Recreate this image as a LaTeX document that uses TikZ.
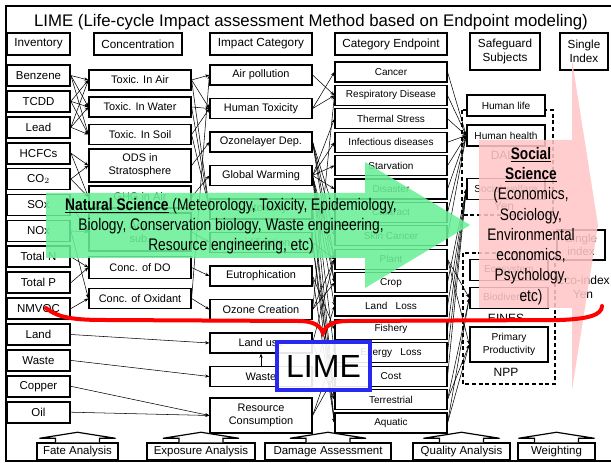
\documentclass[tikz,border=0pt]{standalone}
\usepackage{fontspec}
\setmainfont{Liberation Sans}
\newfontfamily\narrowfont[FakeStretch=0.82]{Liberation Sans}
\usetikzlibrary{arrows.meta,calc}

\definecolor{natgreen}{RGB}{105,240,150}
\definecolor{socpink}{RGB}{255,198,198}
\definecolor{limeblue}{RGB}{40,40,240}
\definecolor{bracered}{RGB}{255,0,0}

\begin{document}
\begin{tikzpicture}[x=0.75pt, y=-0.75pt,
    box/.style={draw, fill=white, line width=0.9pt, inner sep=0pt, align=center},
    hdrbox/.style={box, line width=1.3pt, font=\fontsize{8.8}{10.4}\selectfont},
    invbox/.style={box, line width=1.3pt, minimum width=47.25pt, minimum height=15.75pt, font=\fontsize{8.6}{10}\selectfont},
    concbox/.style={box, minimum width=76.5pt, minimum height=15pt, font=\fontsize{8.2}{9.8}\selectfont},
    endbox/.style={box, line width=0.8pt, minimum width=84pt, minimum height=15pt, font=\fontsize{7.5}{9}\selectfont},
    safebox/.style={box, line width=1.1pt, minimum width=58.5pt, minimum height=15.75pt, font=\fontsize{7.6}{9.4}\selectfont},
    stepbox/.style={box, line width=1.1pt, minimum height=12.75pt, font=\fontsize{8.6}{10}\selectfont},
    unit/.style={font=\fontsize{9}{10.5}\selectfont, align=center},
    conn/.style={-{Stealth[length=3.2pt,width=2.4pt]}, line width=0.4pt}]

  \useasboundingbox (0,0) rectangle (611,463);
  \draw[line width=1.5pt] (611,6) -- (6,6) -- (6,461) -- (611,461);

  \node (title) at (311,22) {\fontsize{12.6}{14}\selectfont LIME (Life-cycle Impact assessment Method based on Endpoint modeling)};

  % column heads
  \node[hdrbox, minimum width=47.25pt, minimum height=16.5pt] (hinv) at (38.5,44) {Inventory};
  \node[hdrbox, minimum width=66pt, minimum height=16.5pt] (hconc) at (138,44) {Concentration};
  \node[hdrbox, minimum width=76.5pt, minimum height=16.5pt] (himp) at (261,44) {Impact Category};
  \node[hdrbox, minimum width=84pt, minimum height=16.5pt] (hend) at (391,44) {Category Endpoint};
  \node[hdrbox, minimum width=52.5pt, minimum height=27.75pt] (hsafe) at (505,51.5) {Safeguard\\Subjects};
  \node[hdrbox, minimum width=36pt, minimum height=27.75pt] (hsingle) at (584,51.5) {Single\\Index};

  % dashed groups of safeguard subjects
  \draw[dash pattern=on 3pt off 2pt, line width=0.9pt] (462,110) rectangle (553,215);
  \draw[dash pattern=on 3pt off 2pt, line width=0.9pt] (463,253) rectangle (555,384);

  % inventory
  \foreach \nm/\txt [count=\i from 0] in {benzene/Benzene, tcdd/TCDD, lead/Lead, hcfc/HCFCs, co2/CO$_2$, sox/SOx, nox/NOx, totn/Total N, totp/Total P, nmvoc/NMVOC, land/Land, waste/Waste, copper/Copper, oil/Oil}
    \node[invbox] (\nm) at (38.5,75.5+25.9*\i) {\txt};

  % concentration
  \node[concbox] (tair) at (140,80) {Toxic. In Air};
  \node[concbox] (twater) at (140,107) {Toxic. In Water};
  \node[concbox] (tsoil) at (140,134.5) {Toxic. In Soil};
  \node[concbox, minimum height=24.75pt] (ods) at (140,165.5) {ODS in\\Stratosphere};
  \node[concbox, minimum height=16.5pt] (ghg) at (140,197) {GHG in Air};
  \node[concbox, minimum height=28.5pt] (acid) at (140,232) {Acid\\sub.};
  \node[concbox, minimum height=17pt] (dox) at (140,267.5) {Conc. of DO};
  \node[concbox] (oxid) at (140,298.5) {Conc. of Oxidant};

  % impact category
  \foreach \nm/\txt [count=\i from 0] in {air/Air pollution, htox/Human Toxicity, ozl/Ozonelayer Dep., gw/Global Warming, ecotox/Ecotoxicity, acidif/Acidification, eutro/Eutrophication, ozc/Ozone Creation, landuse/Land use, wastei/Waste}
    \node[concbox] (\nm) at (261,75+33.5*\i) {\txt};
  \node[concbox, minimum height=26.25pt] (resource) at (261,415.5) {Resource\\Consumption};

  % category endpoint
  \foreach \nm/\txt [count=\i from 0] in {cancer/Cancer, resp/Respiratory Disease, thermal/Thermal Stress, infect/Infectious diseases, starv/Starvation, disaster/Disaster, cataract/Cataract, skin/Skin Cancer, plant/Plant, crop/Crop, landloss/Land~~~Loss, fishery/Fishery, energy/Energy~~~Loss, cost/Cost, terr/Terrestrial, aquatic/Aquatic}
    \node[endbox] (\nm) at (391,72+23.4*\i) {\txt};

  % safeguard subjects
  \node[safebox] (hlife) at (506,105.5) {Human life};
  \node[safebox] (hhealth) at (506,135.5) {Human health};
  \node[unit] (daly) at (506,155) {DALY};
  \node[safebox] (swelfare) at (506,189) {Social welfare};
  \node[unit] (yen) at (504,206) {Yen};
  \node[safebox] (ecosys) at (509,270) {Ecosystem};
  \node[safebox] (biodiv) at (509,298) {Biodiversity};
  \node[unit] (eines) at (506,318) {EINES};
  \node[safebox, minimum height=26.25pt] (primary) at (509,344.5) {Primary\\Productivity};
  \node[unit] (npp) at (506,372) {NPP};

  % single index
  \node[box, line width=1.1pt, minimum width=36pt, minimum height=22.5pt, font=\fontsize{8.6}{10}\selectfont] (sindex) at (581,245) {Single\\index};
  \node[unit] (ecoidx) at (583,287) {Eco-index\\Yen};

  % steps
  \node[stepbox, minimum width=60.75pt] (fate) at (77.5,451.5) {Fate Analysis};
  \node[stepbox, minimum width=81pt] (expo) at (201,451.5) {Exposure Analysis};
  \node[stepbox, minimum width=94.5pt] (dmg) at (328,451.5) {Damage Assessment};
  \node[stepbox, minimum width=72.75pt] (qual) at (461.5,451.5) {Quality Analysis};
  \node[stepbox, minimum width=57.75pt] (wgt) at (556.5,451.5) {Weighting};
  \foreach \b in {fate,expo,dmg,qual,wgt}
    \draw[line width=0.9pt, fill=white] ($(\b.north)+(-22,0)$) -- ++(0,-4) -- ++(-16,0)
      -- ($(\b.north)+(0,-10)$) -- ($(\b.north)+(38,-4)$) -- ++(-16,0) -- ++(0,4);

  % connectors
  \foreach \a/\b in {benzene/tair, benzene/twater, benzene/tsoil, tcdd/tair, tcdd/twater, tcdd/tsoil,
      lead/tair, lead/twater, lead/tsoil, hcfc/ods, hcfc/ghg, co2/ghg, co2/ods, sox/acid, nox/acid,
      nox/oxid, totn/dox, totp/dox, nmvoc/oxid,
      tair/air, tair/htox, twater/htox, tsoil/htox, tair/ecotox, twater/ecotox, tsoil/ecotox,
      ods/ozl, ghg/gw, acid/acidif, dox/eutro, oxid/ozc, oxid/air,
      land/landuse, waste/wastei, copper/resource, oil/resource,
      air/resp, htox/cancer, htox/resp, ozl/skin, ozl/cataract, ozl/crop, ozl/plant,
      gw/thermal, gw/infect, gw/starv, gw/disaster, gw/crop, gw/landloss, gw/energy, gw/terr, gw/plant,
      ecotox/terr, ecotox/aquatic, acidif/plant, acidif/aquatic, acidif/terr, eutro/aquatic, eutro/fishery,
      ozc/resp, ozc/crop, ozc/plant, landuse/terr, landuse/plant, wastei/landloss, resource/energy, resource/cost,
      cancer/hhealth, resp/hhealth, thermal/hhealth, infect/hhealth, starv/hhealth, disaster/hhealth,
      cataract/hhealth, skin/hhealth, crop/swelfare, landloss/swelfare, fishery/swelfare, energy/swelfare,
      cost/swelfare, plant/biodiv, terr/biodiv, aquatic/biodiv, plant/primary, terr/primary, aquatic/primary}
    \draw[conn] (\a.east) -- (\b.west);
  \draw[conn] (wastei.north) -- (landuse.south);

  % natural science arrow
  \fill[natgreen, opacity=0.87] (46,193) -- (365,193) -- (365,162) -- (470,225) -- (365,288) -- (365,258) -- (46,258) -- cycle;
  \node[font=\narrowfont\fontsize{12.6}{15}\selectfont, align=center] (natsci) at (231,226)
    {\underline{\textbf{Natural Science}} (Meteorology, Toxicity, Epidemiology,\\Biology, Conservation biology, Waste engineering,\\Resource engineering, etc)};

  % social science arrow
  \fill[socpink, opacity=0.87] (479,140) -- (572,140) -- (572,60) -- (598,225) -- (572,390) -- (572,308) -- (479,308) -- cycle;
  \node[font=\narrowfont\fontsize{12.5}{15.2}\selectfont, align=center] (socsci) at (531,226)
    {\underline{\textbf{Social}}\\\underline{\textbf{Science}}\\(Economics,\\Sociology,\\Environmental\\economics,\\Psychology,\\etc)};

  % brace and LIME
  \draw[bracered, line width=3pt, line cap=round] (46,308) .. controls (58,318) and (75,320) .. (105,320)
    -- (298,321) .. controls (313,321) and (320,325) .. (323,333) .. controls (326,325) and (333,321) .. (348,321)
    -- (560,320) .. controls (588,319) and (602,315) .. (602,306);
  \node[draw=limeblue, line width=3pt, fill=white, fill opacity=0.9, text opacity=1,
    minimum width=70pt, minimum height=36pt, inner sep=0pt, font=\fontsize{24}{26}\selectfont] (lime) at (323.5,366) {LIME};
\end{tikzpicture}
\end{document}
